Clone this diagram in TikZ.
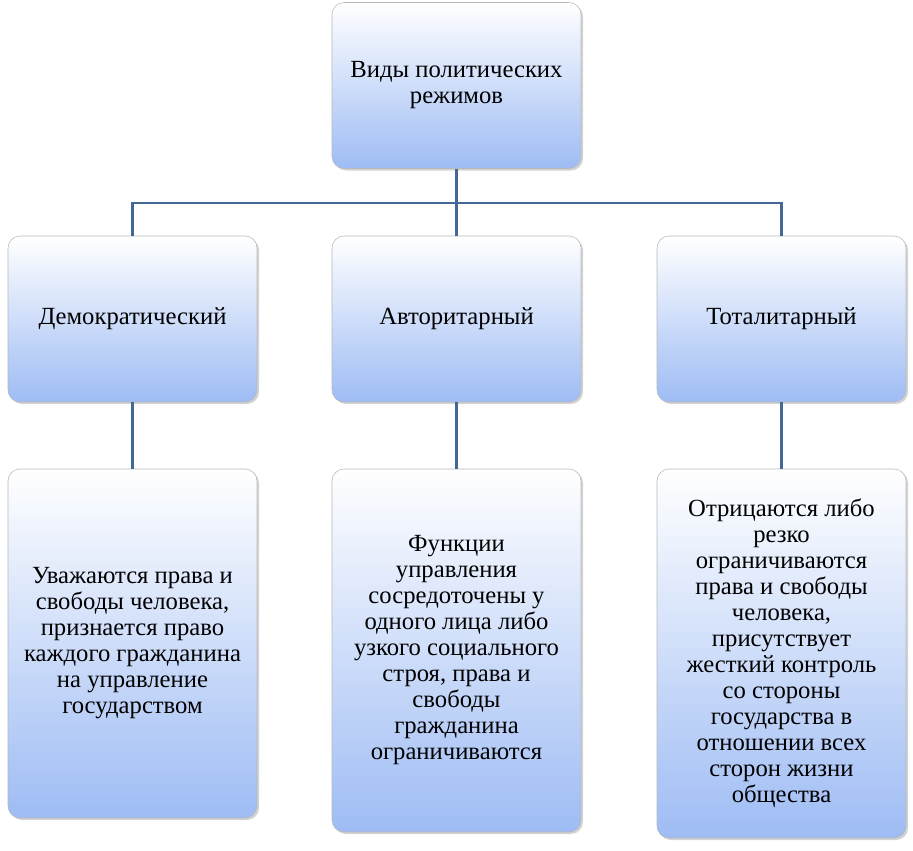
\documentclass[tikz,border=0pt]{standalone}
\usepackage{fontspec}
\setmainfont{Liberation Serif}
\usetikzlibrary{positioning, shadows}
\definecolor{boxblue}{RGB}{158,188,244}
\definecolor{linkblue}{RGB}{68,104,150}

\begin{document}
\begin{tikzpicture}[x=0.75pt, y=-0.75pt]
            \tikzstyle{box} = [rectangle, rounded corners=9pt, draw=black!28, top color=white, bottom color=boxblue,
                minimum width=186.75pt, minimum height=124.5pt, align=center, font=\fontsize{18.5}{19.5}\selectfont,
                drop shadow={shadow xshift=1.5pt, shadow yshift=-1.5pt, opacity=0.35}]
            \tikzstyle{link} = [draw=linkblue, line width=2.2pt]
            \useasboundingbox (0,0) rectangle (913,850);

            % Top
            \node[box] (kinds) at (456.5,85.5) {Виды политических\\режимов};

            % Regimes
            \node[box] (demo) at (132.5,319) {Демократический};
            \node[box] (auto) at (456.5,319) {Авторитарный};
            \node[box] (tota) at (781.5,319) {Тоталитарный};

            % Descriptions
            \node[box, minimum height=261.75pt] (demod) at (132.5,643.5)
                {Уважаются права и\\свободы человека,\\признается право\\каждого гражданина\\на управление\\государством};
            \node[box, minimum height=272.25pt] (autod) at (456.5,650.5)
                {Функции\\управления\\сосредоточены у\\одного лица либо\\узкого социального\\строя, права и\\свободы\\гражданина\\ограничиваются};
            \node[box, minimum height=276.75pt] (totad) at (781.5,653.5)
                {Отрицаются либо\\резко\\ограничиваются\\права и свободы\\человека,\\присутствует\\жесткий контроль\\со стороны\\государства в\\отношении всех\\сторон жизни\\общества};

            % Links
            \coordinate (fork) at (456.5,203);
            \draw[link] (kinds) -- (fork);
            \draw[link] (demo.north) |- (fork) -| (tota.north);
            \draw[link] (fork) -- (auto);
            \draw[link] (demo) -- (demod);
            \draw[link] (auto) -- (autod);
            \draw[link] (tota) -- (totad);
\end{tikzpicture}
\end{document}
